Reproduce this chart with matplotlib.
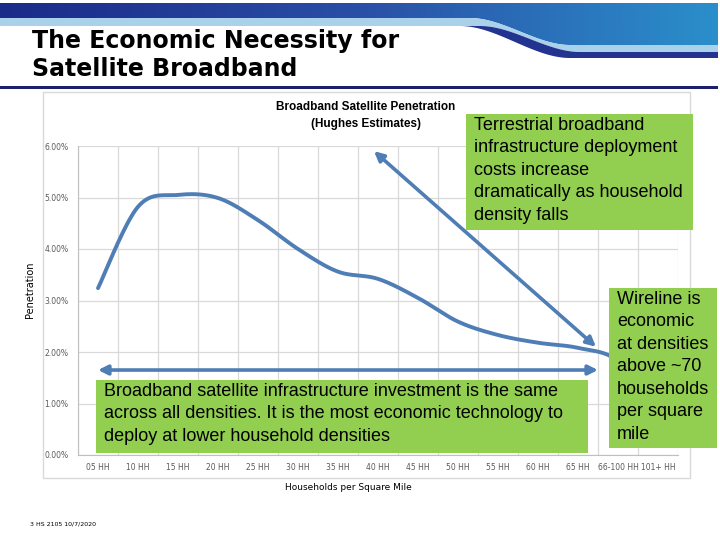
import numpy as np
import matplotlib.pyplot as plt
from matplotlib.patches import Rectangle, Polygon
from matplotlib.colors import LinearSegmentedColormap

# data
categories = ['05 HH', '10 HH', '15 HH', '20 HH', '25 HH', '30 HH', '35 HH', '40 HH',
              '45 HH', '50 HH', '55 HH', '60 HH', '65 HH', '66-100 HH', '101+ HH']
penetration = [0.0324, 0.0482, 0.0505, 0.0499, 0.0456, 0.0400, 0.0356, 0.0342,
               0.0305, 0.0259, 0.0233, 0.0218, 0.0208, 0.0183, 0.0090]
yticks = [0.0, 0.01, 0.02, 0.03, 0.04, 0.05, 0.06]

W, H = 720, 540
BLUE = '#4F7DB5'
GREEN = '#92CF50'


def smooth(xs, ys, n=20):
    # catmull-rom rendering, like Excel's "smoothed line" option
    xs = np.asarray(xs, float)
    ys = np.asarray(ys, float)
    px = np.r_[xs[0], xs, xs[-1]]
    py = np.r_[ys[0], ys, ys[-1]]
    ox, oy = [], []
    t = np.linspace(0, 1, n, endpoint=False)
    for i in range(1, len(px) - 2):
        for p, o in ((px, ox), (py, oy)):
            p0, p1, p2, p3 = p[i - 1], p[i], p[i + 1], p[i + 2]
            o.extend(0.5 * (2 * p1 + (-p0 + p2) * t + (2 * p0 - 5 * p1 + 4 * p2 - p3) * t ** 2
                            + (-p0 + 3 * p1 - 3 * p2 + p3) * t ** 3))
    ox.append(xs[-1])
    oy.append(ys[-1])
    return np.array(ox), np.array(oy)


def ease(v, start, span):
    v = np.clip((v - start) / span, 0, 1)
    return v * v * (3 - 2 * v)


fig = plt.figure(figsize=(7.2, 5.4), dpi=100)

# overlay in pixel coords for the slide decoration
bg = fig.add_axes([0, 0, 1, 1], zorder=0)
bg.set_xlim(0, W)
bg.set_ylim(H, 0)
bg.axis('off')

# header banner
grad = LinearSegmentedColormap.from_list('hdr', ['#1B2A88', '#2A4FA6', '#2A8FCB'])
xx = np.linspace(0, 1, 256).reshape(1, -1)
img = bg.imshow(np.vstack([xx, xx]), cmap=grad, aspect='auto', extent=(0, 718, 3, 46), zorder=1)
sx = np.linspace(0, 718, 400)
lower = 18 + 27 * ease(sx, 470, 100)
clip = Polygon(np.c_[np.r_[sx, sx[::-1]], np.r_[np.full(len(sx), 3), lower[::-1]]], closed=True,
               transform=bg.transData)
img.set_clip_path(clip)
light_bot = 26 + 26 * ease(sx, 480, 100)
bg.add_patch(Polygon(np.c_[np.r_[sx, sx[::-1]], np.r_[lower, light_bot[::-1]]],
                     closed=True, facecolor='#A9D2EA', edgecolor='none', zorder=1))
dark_bot = 26 + 32 * ease(sx, 460, 110)
bg.add_patch(Polygon(np.c_[np.r_[sx, sx[::-1]], np.r_[light_bot, dark_bot[::-1]]],
                     closed=True, facecolor='#22348F', edgecolor='none', zorder=1))
bg.add_patch(Rectangle((0, 86), 718, 3, facecolor='#1B1F6E', edgecolor='none', zorder=1))

bg.text(32, 41, 'The Economic Necessity for', fontsize=17, fontweight='bold',
        family='DejaVu Sans', va='center', ha='left', zorder=2)
bg.text(32, 69, 'Satellite Broadband', fontsize=17, fontweight='bold',
        family='DejaVu Sans', va='center', ha='left', zorder=2)

# chart frame
bg.add_patch(Rectangle((43, 92), 647, 386, facecolor='white', edgecolor='#D9D9D9', lw=1, zorder=1))
bg.text(366, 107, 'Broadband Satellite Penetration', fontsize=8.5, fontweight='bold',
        family='Liberation Sans', ha='center', va='center', zorder=2)
bg.text(366, 124, '(Hughes Estimates)', fontsize=8.5, fontweight='bold',
        family='Liberation Sans', ha='center', va='center', zorder=2)
bg.text(30, 290, 'Penetration', fontsize=7, rotation=90, ha='center', va='center',
        family='DejaVu Sans', zorder=2)
bg.text(348, 488, 'Households per Square Mile', fontsize=6.5, ha='center', va='center',
        family='DejaVu Sans', zorder=2)
bg.text(30, 524, '3 HS 2105 10/7/2020', fontsize=4.5, ha='left', va='center', zorder=2)

# the chart itself
ax = fig.add_axes([78 / W, 1 - 455 / H, 600 / W, (455 - 146) / H], zorder=1)
ax.patch.set_alpha(0)
x = np.arange(len(categories))
sx_, sy_ = smooth(x, penetration)
ax.plot(sx_, sy_, color=BLUE, lw=2.8, solid_capstyle='round', zorder=3)
ax.set_xlim(-0.5, len(categories) - 0.5)
ax.set_ylim(0, 0.06)
ax.set_xticks(x)
ax.set_xticklabels(categories)
ax.set_xticks(np.arange(-0.5, len(categories), 1), minor=True)
ax.set_yticks(yticks)
ax.set_yticklabels(['%.2f%%' % (v * 100) for v in yticks])
ax.tick_params(which='both', length=0, labelsize=5.5, labelcolor='#595959')
ax.tick_params(axis='x', pad=6)
ax.tick_params(axis='y', pad=7)
ax.grid(axis='y', color='#D9D9D9', lw=0.9)
ax.grid(axis='x', which='minor', color='#D9D9D9', lw=0.9)
for side in ['top', 'right']:
    ax.spines[side].set_visible(False)
for side in ['left', 'bottom']:
    ax.spines[side].set_color('#BFBFBF')

# annotation arrows (in data coordinates)
arrow = dict(arrowstyle='<|-|>', color=BLUE, lw=2.6, mutation_scale=14, shrinkA=0, shrinkB=0)
ax.annotate('', xy=(6.9, 0.059), xytext=(12.45, 0.021), arrowprops=arrow,
            annotation_clip=False, zorder=4)
ax.annotate('', xy=(0.0, 0.0165), xytext=(12.5, 0.0165), arrowprops=arrow,
            annotation_clip=False, zorder=4)

# green callout boxes (pixel coords on top layer)
fg = fig.add_axes([0, 0, 1, 1], zorder=5)
fg.set_xlim(0, W)
fg.set_ylim(H, 0)
fg.axis('off')
fg.patch.set_alpha(0)
box_font = dict(family='Liberation Sans', fontsize=13, color='black', va='top',
                ha='left', linespacing=1.42)
fg.add_patch(Rectangle((466, 114), 227, 116, facecolor=GREEN, edgecolor='none'))
fg.text(474, 117, 'Terrestrial broadband\ninfrastructure deployment\ncosts increase\n'
        'dramatically as household\ndensity falls', **box_font)
fg.add_patch(Rectangle((96, 380), 492, 73, facecolor=GREEN, edgecolor='none'))
fg.text(104, 383, 'Broadband satellite infrastructure investment is the same\n'
        'across all densities. It is the most economic technology to\n'
        'deploy at lower household densities', **box_font)
fg.add_patch(Rectangle((609, 288), 108, 160, facecolor=GREEN, edgecolor='none'))
fg.text(617, 291, 'Wireline is\neconomic\nat densities\nabove ~70\nhouseholds\n'
        'per square\nmile', **box_font)

fig.savefig('out.png', dpi=100)
